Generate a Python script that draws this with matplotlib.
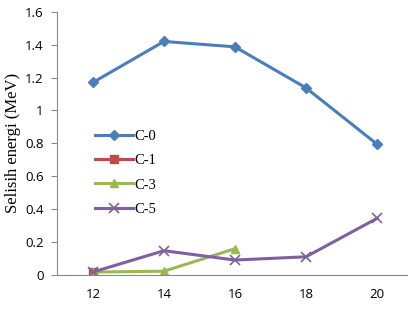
import matplotlib
matplotlib.use("Agg")
import matplotlib.pyplot as plt

x_labels = ["12", "14", "16", "18", "20"]
x_vals = [12, 14, 16, 18, 20]
c0 = [1.17, 1.42, 1.387, 1.137, 0.794]
c1_x = [12]
c1 = [0.015]
c3_x = [12, 14, 16]
c3 = [0.015, 0.02, 0.157]
c5 = [0.015, 0.145, 0.088, 0.108, 0.342]

fig = plt.figure(figsize=(4.13, 3.13), dpi=100)
ax = fig.add_axes([0.139, 0.123, 0.847, 0.839])

ax.plot(x_vals, c0, color="#4a7ebb", lw=2.2, marker="D", ms=5, label="C-0")
ax.plot(c1_x, c1, color="#be4b48", lw=2.2, marker="s", ms=6, label="C-1")
ax.plot(c3_x, c3, color="#98b954", lw=2.2, marker="^", ms=6, label="C-3")
ax.plot(x_vals, c5, color="#7d60a0", lw=2.2, marker="x", ms=7, mew=1.2, label="C-5")

ax.set_xlim(11, 20.85)
ax.set_ylim(0, 1.6)
ax.set_xticks(x_vals)
ax.set_xticklabels(x_labels)
ax.set_yticks([0, 0.2, 0.4, 0.6, 0.8, 1.0, 1.2, 1.4, 1.6])
ax.set_yticklabels(["0", "0.2", "0.4", "0.6", "0.8", "1", "1.2", "1.4", "1.6"])
for lab in ax.get_xticklabels() + ax.get_yticklabels():
    lab.set_fontfamily("Open Sans")
    lab.set_fontsize(9.5)
ax.tick_params(axis="x", length=0, pad=10)
ax.tick_params(axis="y", length=4, color="#888888", pad=6)
for s in ["top", "right"]:
    ax.spines[s].set_visible(False)
for s in ["left", "bottom"]:
    ax.spines[s].set_color("#888888")
    ax.spines[s].set_linewidth(0.8)

ax.set_ylabel("Selisih energi (MeV)", fontfamily="Liberation Serif", fontsize=12, labelpad=3)

leg = ax.legend(loc="upper left", bbox_to_anchor=(0.07, 0.60), frameon=False,
                prop={"family": "Liberation Serif", "size": 10.5},
                handlelength=2.6, handletextpad=0.1, labelspacing=0.75)

fig.savefig("out.png", dpi=100)
